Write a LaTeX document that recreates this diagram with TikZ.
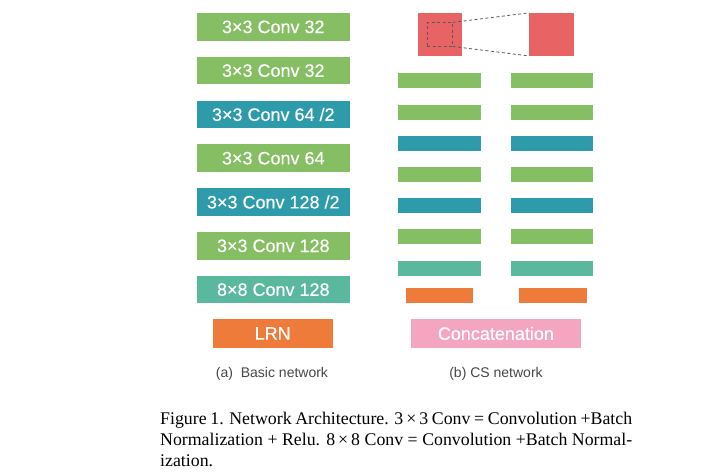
\documentclass[tikz,border=0pt]{standalone}
\usepackage{fontspec}
\setmainfont{Liberation Serif}
\setsansfont{Liberation Sans}
\newfontfamily\labelfont[FakeBold=0.35]{Liberation Sans}
\definecolor{cgreen}{RGB}{134,190,100}
\definecolor{cteal}{RGB}{46,155,170}
\definecolor{cmint}{RGB}{90,185,156}
\definecolor{corange}{RGB}{238,123,58}
\definecolor{cred}{RGB}{232,99,100}
\definecolor{cpink}{RGB}{244,166,192}
\definecolor{csub}{RGB}{70,70,70}
\tikzset{
  lbox/.style={draw=none, inner sep=0pt, minimum width=153.3pt, minimum height=27.7pt,
    text=white, font=\labelfont\fontsize{18}{20}\selectfont},
  bar/.style={draw=none, inner sep=0pt, minimum width=82.4pt, minimum height=15pt},
  obar/.style={draw=none, inner sep=0pt, minimum width=67.3pt, minimum height=15pt, fill=corange},
  sq/.style={draw=none, inner sep=0pt, minimum width=44.6pt, minimum height=42.7pt, fill=cred},
  subcap/.style={text=csub, font=\sffamily\fontsize{14}{16}\selectfont, anchor=base},
  zoomline/.style={draw=black!65, dashed, line width=0.8pt, dash pattern=on 3pt off 2.5pt}
}
\begin{document}
\begin{tikzpicture}[x=1pt,y=-1pt]
\useasboundingbox (0,0) rectangle (723,475);
% left column
\node[lbox, fill=cgreen] (a1) at (273.3,26.9) {3×3 Conv 32};
\node[lbox, fill=cgreen] (a2) at (273.3,70.6) {3×3 Conv 32};
\node[lbox, fill=cteal]  (a3) at (273.3,114.4) {3×3 Conv 64 /2};
\node[lbox, fill=cgreen] (a4) at (273.3,158.2) {3×3 Conv 64};
\node[lbox, fill=cteal]  (a5) at (273.3,202.0) {3×3 Conv 128 /2};
\node[lbox, fill=cgreen] (a6) at (273.3,245.8) {3×3 Conv 128};
\node[lbox, fill=cmint]  (a7) at (273.3,289.6) {8×8 Conv 128};
\node[lbox, fill=corange, minimum width=120pt, minimum height=28.7pt] (lrn) at (272.7,333.4) {LRN};
% right column: squares
\node[sq] (s1) at (440.0,34.4) {};
\node[sq] (s2) at (551.7,34.4) {};
\node[draw=black!65, dashed, dash pattern=on 3pt off 2.5pt, line width=0.8pt, inner sep=0pt,
  minimum width=25pt, minimum height=23.3pt] (zr) at (439.8,34.4) {};
\draw[zoomline] (zr.north east) -- (s2.north west);
\draw[zoomline] (zr.south east) -- (s2.south west);
% bars
\foreach \i/\y/\c in {1/80.8/cgreen, 2/112.2/cgreen, 3/143.5/cteal, 4/174.7/cgreen,
                       5/205.8/cteal, 6/236.8/cgreen, 7/268.2/cmint}{
  \node[bar, fill=\c] (bl\i) at (439.5,\y) {};
  \node[bar, fill=\c] (br\i) at (552.0,\y) {};
}
\node[obar] (ol) at (439.6,295.8) {};
\node[obar] (or) at (552.9,295.8) {};
\node[lbox, fill=cpink, minimum width=169.7pt, minimum height=28.7pt] (cat) at (495.9,333.4) {Concatenation};
% sub-captions
\node[subcap] (capa) at (272.0,377.3) {(a)\ \ Basic network};
\node[subcap] (capb) at (496.0,377.3) {(b) CS network};
% figure caption
\node[anchor=base west, inner sep=0pt] (fig) at (160,424) {\parbox[t]{472pt}{\fontsize{17.8}{21}\selectfont
Figure 1. Network Architecture. 3\,×\,3 Conv = Convolution +Batch\linebreak
Normalization + Relu. 8\,×\,8 Conv = Convolution +Batch Normal-\linebreak
ization.}};
\end{tikzpicture}
\end{document}
